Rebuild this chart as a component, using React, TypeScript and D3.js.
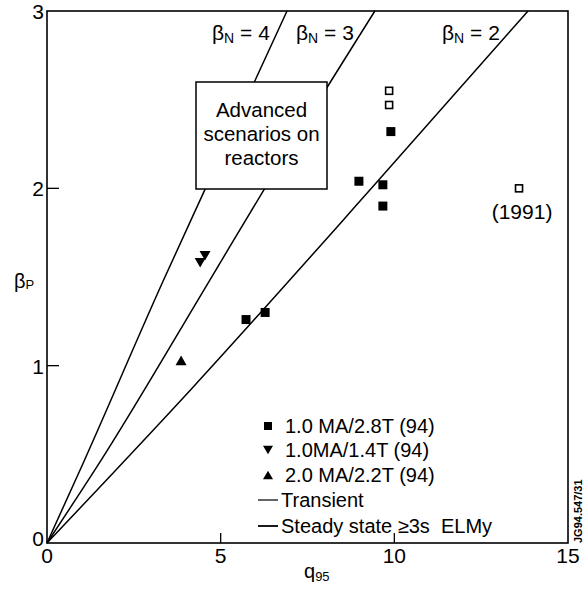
import React from 'react';
import * as d3 from 'd3';

// Axis ticks
const xTicks = [0, 5, 10, 15];
const yTicks = [0, 1, 2, 3];

// Constant beta_N contours (q95, beta_p)
const betaN4Line: [number, number][] = [[0, 0], [1.04, 0.45], [3.35, 1.48], [4.54, 1.99], [6.91, 3]];
const betaN3Line: [number, number][] = [[0, 0], [1.6, 0.48], [4.68, 1.48], [6.24, 1.99], [9.44, 3]];
const betaN2Line: [number, number][] = [[0, 0], [4.21, 0.88], [9.34, 2.0], [13.85, 3]];

// Measurements (q95, beta_p)
const squares28T: [number, number][] = [[5.73, 1.26], [6.28, 1.3], [8.98, 2.04], [9.67, 2.02], [9.67, 1.9], [9.9, 2.32]];
const openSquares: [number, number][] = [[9.85, 2.55], [9.85, 2.47], [13.59, 2.0]];
const downTriangles14T: [number, number][] = [[4.41, 1.58], [4.55, 1.62]];
const upTriangles22T: [number, number][] = [[3.86, 1.03]];

const legendLabels = ['1.0 MA/2.8T (94)', '1.0MA/1.4T (94)', '2.0 MA/2.2T (94)', 'Transient', 'Steady state \u22653s  ELMy'];

const FONT = '"Liberation Sans", Arial, Helvetica, sans-serif';

export default function App() {
  const x = d3.scaleLinear().domain([0, 15]).range([47, 568]);
  const y = d3.scaleLinear().domain([0, 3]).range([543, 11]);
  const line = d3.line<[number, number]>().x(d => x(d[0])).y(d => y(d[1])).curve(d3.curveMonotoneX);

  const sq = 9;
  const tri = (cx: number, cy: number, down: boolean, s = 11) => {
    const h = s * 0.87;
    return down
      ? `M${cx - s / 2},${cy - h / 2}L${cx + s / 2},${cy - h / 2}L${cx},${cy + h / 2}Z`
      : `M${cx - s / 2},${cy + h / 2}L${cx + s / 2},${cy + h / 2}L${cx},${cy - h / 2}Z`;
  };

  const legendY = [426, 450, 475, 500, 526];

  return (
    <svg width={588} height={590} style={{ position: 'absolute', left: 0, top: 0, background: '#fff' }} fontFamily={FONT}>
      <rect x={0} y={0} width={588} height={590} fill="#fff" />
      <g fill="none" stroke="#000" strokeWidth={1.5}>
        <path d={line(betaN4Line) || ''} />
        <path d={line(betaN3Line) || ''} />
        <path d={line(betaN2Line) || ''} />
      </g>

      {/* frame */}
      <rect x={x(0)} y={y(3)} width={x(15) - x(0)} height={y(0) - y(3)} fill="none" stroke="#000" strokeWidth={1.6} />

      {/* ticks */}
      {yTicks.filter(t => t > 0 && t < 3).map(t => (
        <line key={'yt' + t} x1={x(0)} x2={x(0) + 12} y1={y(t)} y2={y(t)} stroke="#000" strokeWidth={1.3} />
      ))}
      {xTicks.filter(t => t > 0 && t < 15).map(t => (
        <line key={'xt' + t} x1={x(t)} x2={x(t)} y1={y(0)} y2={y(0) - 10} stroke="#000" strokeWidth={1.3} />
      ))}

      {/* tick labels */}
      {xTicks.map(t => (
        <text key={'xl' + t} x={x(t)} y={563} fontSize={21} textAnchor="middle">{t}</text>
      ))}
      {yTicks.map(t => (
        <text key={'yl' + t} x={44} y={y(t) + (t === 0 ? 3 : 8)} fontSize={21} textAnchor="end">{t}</text>
      ))}

      {/* axis titles */}
      <text x={14} y={288} fontSize={20}>β<tspan fontSize={13} dy={1}>P</tspan></text>
      <text x={304} y={578} fontSize={20}>q<tspan fontSize={13} dy={3}>95</tspan></text>

      {/* contour labels */}
      <text x={212} y={40} fontSize={21}>β<tspan fontSize={14} dy={3}>N</tspan><tspan dy={-3}> = 4</tspan></text>
      <text x={296} y={40} fontSize={21}>β<tspan fontSize={14} dy={3}>N</tspan><tspan dy={-3}> = 3</tspan></text>
      <text x={442} y={40} fontSize={21}>β<tspan fontSize={14} dy={3}>N</tspan><tspan dy={-3}> = 2</tspan></text>

      {/* annotation box */}
      <rect x={196} y={82} width={131} height={107} fill="#fff" stroke="#000" strokeWidth={1.5} />
      <g fontSize={20.5} textAnchor="middle">
        <text x={261.5} y={117}>Advanced</text>
        <text x={261.5} y={141}>scenarios on</text>
        <text x={261.5} y={165}>reactors</text>
      </g>

      {/* markers */}
      {squares28T.map((d, i) => (
        <rect key={'s' + i} x={x(d[0]) - sq / 2} y={y(d[1]) - sq / 2} width={sq} height={sq} fill="#000" />
      ))}
      {openSquares.map((d, i) => (
        <rect key={'o' + i} x={x(d[0]) - 3.5} y={y(d[1]) - 3.5} width={7} height={7} fill="#fff" stroke="#000" strokeWidth={1.6} />
      ))}
      {downTriangles14T.map((d, i) => (
        <path key={'d' + i} d={tri(x(d[0]), y(d[1]), true)} fill="#000" />
      ))}
      {upTriangles22T.map((d, i) => (
        <path key={'u' + i} d={tri(x(d[0]), y(d[1]), false)} fill="#000" />
      ))}
      <text x={x(openSquares[2][0]) + 3} y={219} fontSize={21} textAnchor="middle">(1991)</text>

      {/* legend */}
      <rect x={268 - 4} y={legendY[0] - 4} width={8} height={8} fill="#000" />
      <path d={tri(268, legendY[1], true, 10)} fill="#000" />
      <path d={tri(268, legendY[2], false, 10)} fill="#000" />
      <line x1={258} x2={278} y1={legendY[3]} y2={legendY[3]} stroke="#000" strokeWidth={1.2} />
      <line x1={258} x2={278} y1={legendY[4]} y2={legendY[4]} stroke="#000" strokeWidth={1.8} />
      {legendLabels.map((l, i) => (
        <text key={'lg' + i} x={i < 3 ? 285 : 281} y={legendY[i] + 7} fontSize={20} style={{ whiteSpace: 'pre' }}>{l}</text>
      ))}

      <text transform="translate(582,543) rotate(-90)" fontSize={11} fontWeight="bold">JG94.547/31</text>
    </svg>
  );
}
